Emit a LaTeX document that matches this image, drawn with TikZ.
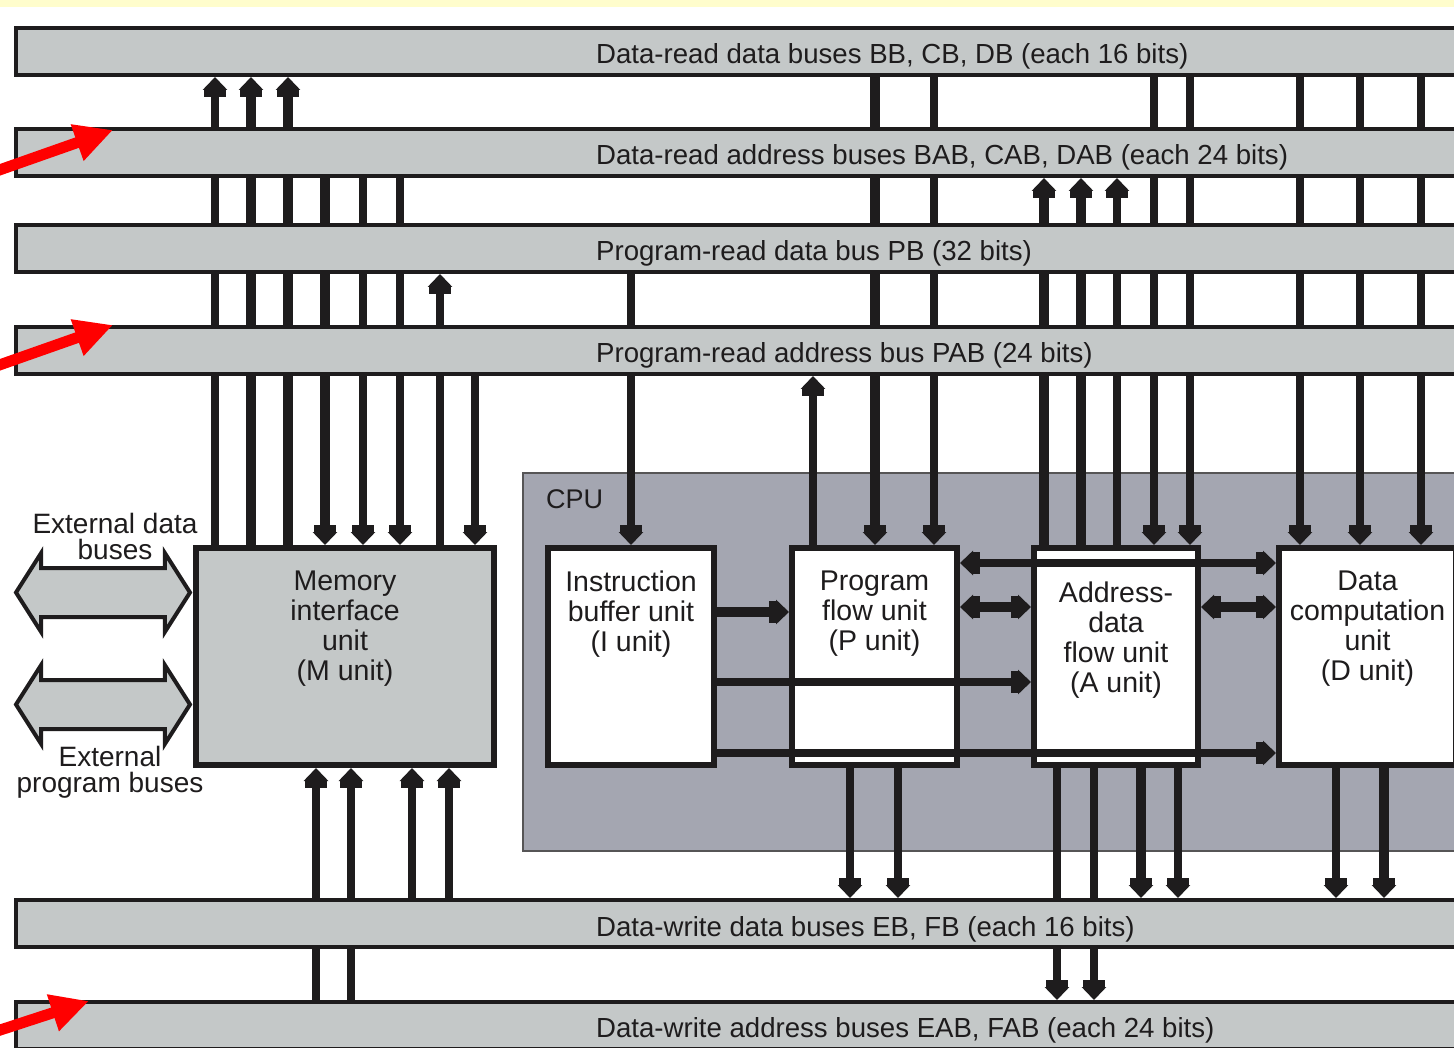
\documentclass[tikz,border=0pt]{standalone}
\usepackage{fontspec}
\setmainfont{Liberation Sans}
\usetikzlibrary{arrows.meta,positioning,shapes.arrows}

\definecolor{busgray}{RGB}{196,200,200}
\definecolor{cpugray}{RGB}{164,166,177}
\definecolor{ink}{RGB}{30,28,29}
\definecolor{paleyellow}{RGB}{255,253,204}

\pgfdeclarelayer{bottom}
\pgfdeclarelayer{wires}
\pgfsetlayers{bottom,wires,main}

\tikzset{
  bus/.style={draw=ink, fill=busgray, line width=4pt, minimum width=1470pt,
    minimum height=47pt, anchor=north west, inner sep=0pt},
  buslabel/.style={anchor=base west, inner sep=0pt, text=ink,
    font=\fontsize{27.6}{30}\selectfont},
  unit/.style={draw=ink, fill=white, line width=6pt, minimum width=165pt,
    minimum height=217pt, inner sep=0pt},
  unittext/.style={align=center, inner sep=0pt, text=ink,
    font=\fontsize{28.5}{30}\selectfont},
  extlabel/.style={align=center, inner sep=0pt, text=ink, anchor=north,
    font=\fontsize{28}{26}\selectfont},
  wire/.style={draw=ink, line width=7.5pt},
  fatwire/.style={draw=ink, line width=9.5pt},
  headend/.style={-{Rectangle[width=22pt,length=7pt,sep=0pt]Triangle[width=24pt,length=13pt,sep=0pt]}},
  headboth/.style={{Triangle[width=24pt,length=13pt,sep=0pt]Rectangle[width=22pt,length=7pt,sep=0pt]}-{Rectangle[width=22pt,length=7pt,sep=0pt]Triangle[width=24pt,length=13pt,sep=0pt]}},
  extbus/.style={double arrow, draw=ink, fill=busgray, line width=4pt,
    minimum height=174pt, double arrow head extend=15pt,
    double arrow tip angle=115, inner xsep=0pt, inner ysep=22.5pt},
  redarrow/.style={draw=red, line width=11pt, -{Triangle[width=36pt,length=38pt]}},
}

\begin{document}
\begin{tikzpicture}[x=1pt, y=-1pt]
  \useasboundingbox (0,0) rectangle (1454,1048);

  % buses
  \node[bus] (bb)  at (14,26)   {};
  \node[bus] (bab) at (14,127)  {};
  \node[bus] (pb)  at (14,223)  {};
  \node[bus] (pab) at (14,325)  {};
  \node[bus] (eb)  at (14,898)  {};
  \node[bus] (eab) at (14,1000) {};

  \node[buslabel] (lbb)  at (596,64)     {Data-read data buses BB, CB, DB (each 16 bits)};
  \node[buslabel] (lbab) at (596,164.5)  {Data-read address buses BAB, CAB, DAB (each 24 bits)};
  \node[buslabel] (lpb)  at (596,261)    {Program-read data bus PB (32 bits)};
  \node[buslabel] (lpab) at (596,362.5)  {Program-read address bus PAB (24 bits)};
  \node[buslabel] (leb)  at (596,936.5)  {Data-write data buses EB, FB (each 16 bits)};
  \node[buslabel] (leab) at (596,1037.5) {Data-write address buses EAB, FAB (each 24 bits)};

  \begin{pgfonlayer}{bottom}
    \fill[white] (0,0) rectangle (1454,1048);
    \fill[paleyellow] (0,0) rectangle (1454,7);
    \node[draw=ink!75, fill=cpugray, line width=2pt, minimum width=960pt,
      minimum height=378pt, anchor=north west, inner sep=0pt] (cpu) at (522,472) {};
  \end{pgfonlayer}
  \node[inner sep=0pt, text=ink, font=\fontsize{27}{30}\selectfont,
    below right=17pt and 24pt of cpu.north west] (cpulbl) {CPU};

  % units
  \node[unit, fill=busgray, minimum width=298pt] (mu) at (345,656.5) {};
  \node[unit, minimum width=166pt] (iu) at (631,656.5)    {};
  \node[unit] (pu) at (874.5,656.5) {};
  \node[unit, minimum width=164pt] (au) at (1116,656.5)   {};
  \node[unit, minimum width=177pt] (du) at (1367.5,656.5) {};

  \node[unittext, below=26pt of mu.north] (mutext) {Memory\\interface\\unit\\(M unit)};
  \node[unittext, below=26pt of iu.north] (iutext) {Instruction\\buffer unit\\(I unit)};
  \node[unittext, below=26pt of pu.north] (putext) {Program\\flow unit\\(P unit)};
  \node[unittext, below=37pt of au.north] (autext) {Address-\\data\\flow unit\\(A unit)};
  \node[unittext, below=26pt of du.north] (dutext) {Data\\computation\\unit\\(D unit)};

  % external buses
  \node[extbus] (extdata) at (103,592.5) {};
  \node[extbus] (extprog) at (103,704.5) {};
  \node[extlabel] (extdatalbl) at (115,513) {External data\\buses};
  \node[extlabel] (extproglbl) at (110,746) {External\\program buses};

  \begin{pgfonlayer}{wires}
    % M unit up to the buses
    \draw[wire,headend]    (mu.north -| 215,0) -- (bb.south -| 215,0);
    \draw[fatwire,headend] (mu.north -| 251,0) -- (bb.south -| 251,0);
    \draw[fatwire,headend] (mu.north -| 288,0) -- (bb.south -| 288,0);
    \draw[fatwire,headend] (bab.south -| 325,0) -- (mu.north -| 325,0);
    \draw[wire,headend]    (bab.south -| 363,0) -- (mu.north -| 363,0);
    \draw[wire,headend]    (bab.south -| 400,0) -- (mu.north -| 400,0);
    \draw[wire,headend]    (mu.north -| 440,0) -- (pb.south -| 440,0);
    \draw[wire,headend]    (pab.south -| 475,0) -- (mu.north -| 475,0);

    % CPU units up to the buses
    \draw[wire,headend]    (pb.south -| 631,0) -- (iu.north -| 631,0);
    \draw[wire,headend]    (pu.north -| 813,0) -- (pab.south -| 813,0);
    \draw[fatwire,headend] (bb.south -| 875,0) -- (pu.north -| 875,0);
    \draw[wire,headend]    (bb.south -| 934,0) -- (pu.north -| 934,0);
    \draw[fatwire,headend] (au.north -| 1044,0) -- (bab.south -| 1044,0);
    \draw[fatwire,headend] (au.north -| 1081,0) -- (bab.south -| 1081,0);
    \draw[wire,headend]    (au.north -| 1117,0) -- (bab.south -| 1117,0);
    \draw[wire,headend]    (bb.south -| 1154,0) -- (au.north -| 1154,0);
    \draw[wire,headend]    (bb.south -| 1190,0) -- (au.north -| 1190,0);
    \draw[wire,headend]    (bb.south -| 1300,0) -- (du.north -| 1300,0);
    \draw[wire,headend]    (bb.south -| 1360,0) -- (du.north -| 1360,0);
    \draw[wire,headend]    (bb.south -| 1421,0) -- (du.north -| 1421,0);

    % write buses
    \draw[wire,headend]    (eab.north -| 316,0) -- (mu.south -| 316,0);
    \draw[wire,headend]    (eab.north -| 351,0) -- (mu.south -| 351,0);
    \draw[wire,headend]    (eb.north -| 412,0) -- (mu.south -| 412,0);
    \draw[wire,headend]    (eb.north -| 449,0) -- (mu.south -| 449,0);
    \draw[wire,headend]    (pu.south -| 850,0) -- (eb.north -| 850,0);
    \draw[wire,headend]    (pu.south -| 898,0) -- (eb.north -| 898,0);
    \draw[wire,headend]    (au.south -| 1057,0) -- (eab.north -| 1057,0);
    \draw[wire,headend]    (au.south -| 1094,0) -- (eab.north -| 1094,0);
    \draw[fatwire,headend] (au.south -| 1141,0) -- (eb.north -| 1141,0);
    \draw[wire,headend]    (au.south -| 1178,0) -- (eb.north -| 1178,0);
    \draw[wire,headend]    (du.south -| 1336,0) -- (eb.north -| 1336,0);
    \draw[fatwire,headend] (du.south -| 1384,0) -- (eb.north -| 1384,0);
  \end{pgfonlayer}

  % inside the CPU
  \draw[fatwire,headend]  (iu.east |- 0,612) -- (pu.west |- 0,612);
  \draw[fatwire,headboth] (pu.east |- 0,607) -- (au.west |- 0,607);
  \draw[fatwire,headboth] (au.east |- 0,607) -- (du.west |- 0,607);
  \draw[wire,headboth]    (pu.east |- 0,563) -- (du.west |- 0,563);
  \draw[wire,headend]     (iu.east |- 0,682) -- (au.west |- 0,682);
  \draw[wire,headend]     (iu.east |- 0,753) -- (du.west |- 0,753);

  % red pointers
  \coordinate (redtail1) at (-12,174);  \coordinate (redtip1) at (113,130);
  \coordinate (redtail2) at (-12,369);  \coordinate (redtip2) at (113,325);
  \coordinate (redtail3) at (-12,1034); \coordinate (redtip3) at (89,1001);
  \draw[redarrow] (redtail1) -- (redtip1);
  \draw[redarrow] (redtail2) -- (redtip2);
  \draw[redarrow] (redtail3) -- (redtip3);
\end{tikzpicture}
\end{document}
